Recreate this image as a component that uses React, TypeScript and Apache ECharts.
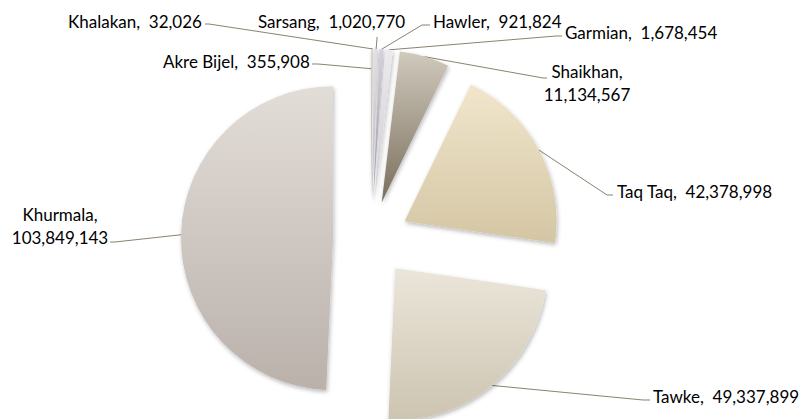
import React, { useEffect, useRef } from 'react';
import * as echarts from 'echarts';

// ---- data ----
const categories = ['Akre Bijel', 'Khalakan', 'Sarsang', 'Hawler', 'Garmian', 'Shaikhan', 'Taq Taq', 'Tawke', 'Khurmala'];
const values = [355908, 32026, 1020770, 921824, 1678454, 11134567, 42378998, 49337899, 103849143];
const twoLineLabel = [false, false, false, false, false, true, false, false, true];

// ---- styles ----
const topColors = ['#dcd4cf', '#e8e8e8', '#e4e2e6', '#d6d3de', '#eceaee', '#d0cabd', '#f1e6cc', '#ebe6da', '#e3ddd8'];
const bottomColors = ['#b3aaa4', '#c9c9c9', '#c0bdc4', '#9e99a8', '#cfccd2', '#7a6e5c', '#d4c6a4', '#cdc4b1', '#bab1ab'];
const FONT = 'Lato';
const FONT_SIZE = 17;

// ---- layout ----
const CX = 371;
const CY = 239;
const RADIUS = 152;
const OFFSET = 38;
const labelX = [163, 68, 258, 433, 565, 587, 617, 653, 60];
const labelY = [61, 21, 21, 21, 32, 83, 191, 396, 226];
const labelAlign = ['left', 'left', 'left', 'left', 'left', 'center', 'left', 'left', 'center'];
const lineElbow = [[318, 64], [209, 24], [377, 39], [422, 25], [556, 36], [543, 78], [607, 195], [643, 400], [115, 242]];
const lineEnd = [[312, 64], [205, 24], [377, 37], [430, 25], [562, 36], [547, 78], [613, 195], [650, 400], [110, 242]];
const anchorFrac = [0.87, 1, 1, 1, 1, 1, 1, 1, 1];

const total = values.reduce((a, b) => a + b, 0);
function offsetFor(i: number): [number, number] {
  let cum = 0;
  for (let k = 0; k < i; k++) cum += values[k];
  const start = -Math.PI / 2;
  const mid = start + ((cum + values[i] / 2) / total) * 2 * Math.PI;
  return [Math.cos(mid) * OFFSET, Math.sin(mid) * OFFSET];
}

const fmt = (v: number) => v.toLocaleString('en-US');
const labelText = (i: number) =>
  categories[i] + (twoLineLabel[i] ? ',\n' : ',  ') + fmt(values[i]);

export default function App() {
  const ref = useRef<HTMLDivElement>(null);
  useEffect(() => {
    if (!ref.current) return;
    const chart = echarts.init(ref.current, null, { renderer: 'svg' });
    const data = categories.map((name, i) => ({
      name,
      value: values[i],
      selected: true,
      itemStyle: {
        color: {
          type: 'linear',
          x: 0, y: 0, x2: 0, y2: 1,
          colorStops: [
            { offset: 0, color: topColors[i] },
            { offset: 1, color: bottomColors[i] },
          ],
        },
      },
    }));
    const texts = categories.map((_, i) => ({
      type: 'text',
      x: labelX[i],
      y: labelY[i],
      silent: true,
      style: {
        text: labelText(i),
        fontFamily: FONT,
        fontSize: FONT_SIZE,
        lineHeight: 23,
        fill: '#000000',
        align: labelAlign[i],
        verticalAlign: 'middle',
      },
    }));
    chart.setOption({
      animation: false,
      backgroundColor: '#ffffff',
      graphic: texts,
      series: [
        {
          type: 'pie',
          center: [CX, CY],
          radius: RADIUS,
          startAngle: 90,
          clockwise: true,
          selectedMode: 'multiple',
          selectedOffset: OFFSET,
          avoidLabelOverlap: false,
          itemStyle: {
            shadowBlur: 4,
            shadowColor: 'rgba(0,0,0,0.28)',
            shadowOffsetX: 1,
            shadowOffsetY: 2,
          },
          emphasis: { disabled: true },
          label: {
            show: true,
            position: 'outside',
            fontFamily: FONT,
            fontSize: FONT_SIZE,
            color: '#000000',
            formatter: () => '',
          },
          labelLine: {
            show: true,
            length: 10,
            length2: 10,
            lineStyle: { color: '#8c8270', width: 1 },
          },
          labelLayout: (params: any) => {
            const i = params.dataIndex;
            const [dx, dy] = offsetFor(i);
            const pts = params.labelLinePoints;
            let p0 = pts ? pts[0] : [CX, CY];
            const f = anchorFrac[i];
            p0 = [CX + (p0[0] - CX) * f, CY + (p0[1] - CY) * f];
            return {
              labelLinePoints: [
                p0,
                [lineElbow[i][0] - dx, lineElbow[i][1] - dy],
                [lineEnd[i][0] - dx, lineEnd[i][1] - dy],
              ],
            };
          },
          data,
        },
      ],
    });
    return () => chart.dispose();
  }, []);
  return (
    <div
      ref={ref}
      style={{ position: 'fixed', left: 0, top: 0, width: 803, height: 419 }}
    />
  );
}
